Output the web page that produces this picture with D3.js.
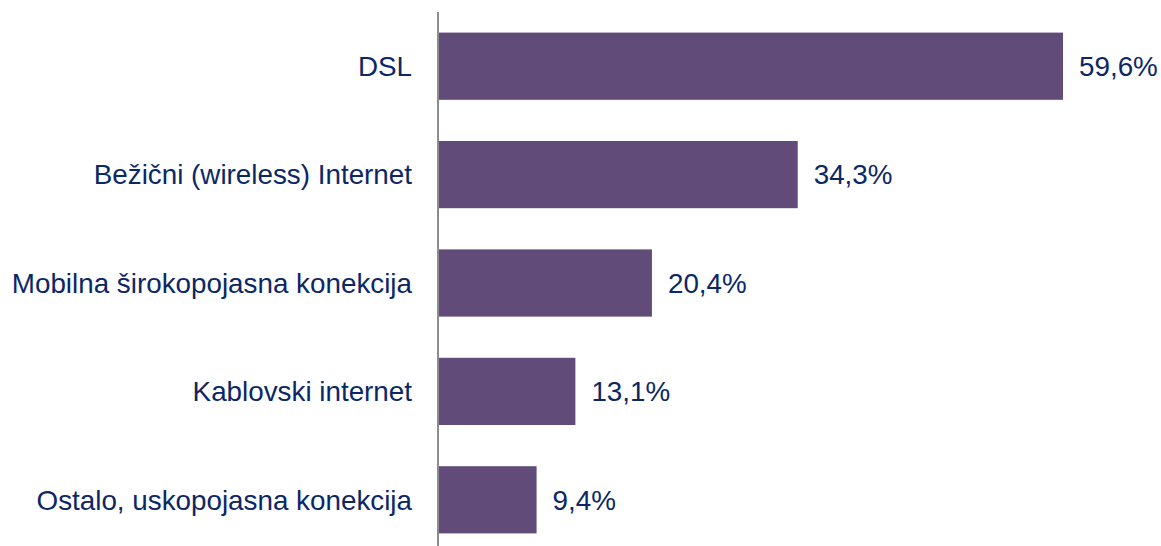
<!DOCTYPE html>
<html>
<head>
<meta charset="utf-8">
<script src="https://cdn.jsdelivr.net/npm/d3@7"></script>
<style>
  body { margin: 0; background: #fff; }
  text { font-family: "Liberation Sans", Arial, sans-serif; }
</style>
</head>
<body>
<div id="chart"></div>
<script>
const categories = ["DSL", "Bežični (wireless) Internet", "Mobilna širokopojasna konekcija", "Kablovski internet", "Ostalo, uskopojasna konekcija"];
const values = [59.6, 34.3, 20.4, 13.1, 9.4];
const valueLabels = ["59,6%", "34,3%", "20,4%", "13,1%", "9,4%"];

const width = 1161, height = 546;
const svg = d3.select("#chart").append("svg").attr("width", width).attr("height", height);

const x = d3.scaleLinear().domain([0, 100]).range([438, 438 + 1048.7]);
const y = d3.scaleBand().domain(categories).range([12, 554]).paddingInner(0.38).paddingOuter(0.19);

const textColor = "#0c2766";

svg.selectAll("rect.bar").data(values).enter().append("rect")
  .attr("class", "bar")
  .attr("x", x(0))
  .attr("y", (d, i) => y(categories[i]))
  .attr("width", d => x(d) - x(0))
  .attr("height", y.bandwidth())
  .attr("fill", "#614b79");

svg.append("line")
  .attr("x1", x(0)).attr("x2", x(0))
  .attr("y1", 12).attr("y2", height)
  .attr("stroke", "#8c8c8c").attr("stroke-width", 2);

svg.selectAll("text.cat").data(categories).enter().append("text")
  .attr("class", "cat")
  .attr("x", x(0) - 26)
  .attr("y", d => y(d) + y.bandwidth() / 2)
  .attr("dy", "0.35em")
  .attr("text-anchor", "end")
  .attr("font-size", 27.8)
  .attr("fill", textColor)
  .text(d => d);

svg.selectAll("text.val").data(values).enter().append("text")
  .attr("class", "val")
  .attr("x", d => x(d) + 16)
  .attr("y", (d, i) => y(categories[i]) + y.bandwidth() / 2)
  .attr("dy", "0.35em")
  .attr("font-size", 27.8)
  .attr("fill", textColor)
  .text((d, i) => valueLabels[i]);
</script>
</body>
</html>
